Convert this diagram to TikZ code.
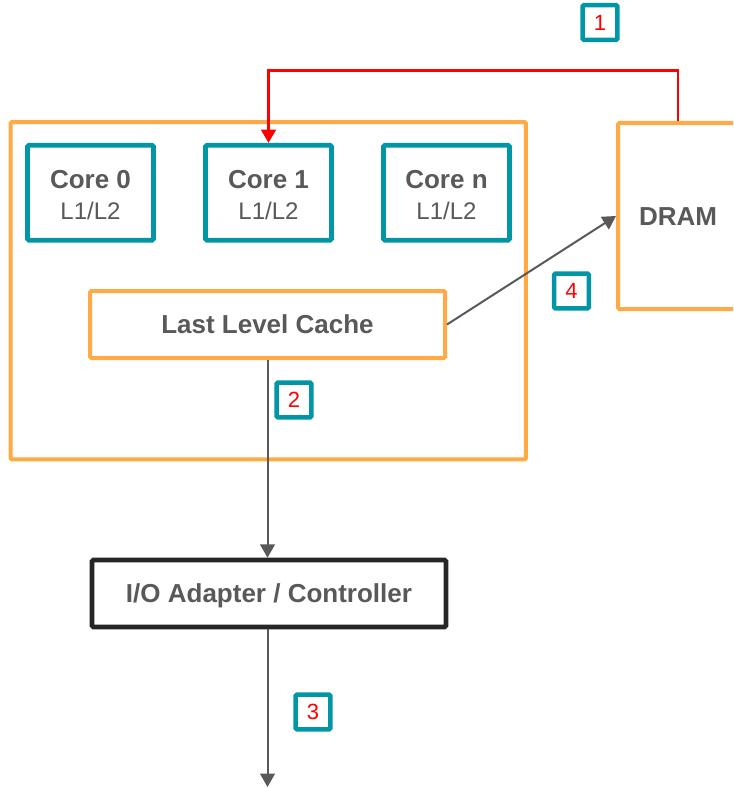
\documentclass[tikz,border=0pt]{standalone}
\usepackage{fontspec}
\setmainfont{Liberation Sans}
\usetikzlibrary{arrows.meta}
\definecolor{tealc}{RGB}{0,150,165}
\definecolor{orangec}{RGB}{255,170,68}
\definecolor{textgray}{RGB}{89,89,89}
\definecolor{linegray}{RGB}{89,89,89}
\definecolor{boxblack}{RGB}{38,38,38}
\definecolor{flowred}{RGB}{255,0,0}
\newcommand{\cachelabel}{\fontsize{18pt}{23.25pt}\selectfont\mdseries L1/L2}
\newcommand{\corehead}[1]{\rule{0pt}{17.3pt}#1}

\begin{document}
\begin{tikzpicture}[x=0.75pt,y=-0.75pt,
  box/.style={draw, rounded corners=1pt, inner sep=0pt, fill=white, align=center, text=textgray,
    font=\fontsize{19.5pt}{23.25pt}\selectfont\bfseries},
  orangebox/.style={box, draw=orangec, line width=3pt},
  core/.style={box, draw=tealc, line width=3.4pt, minimum width=94.5pt, minimum height=71.25pt},
  iobox/.style={box, draw=boxblack, line width=3.4pt},
  tag/.style={draw=tealc, line width=3.4pt, rounded corners=1pt, fill=white, inner sep=0pt,
    minimum width=26pt, minimum height=26pt, text=flowred, font=\fontsize{16.5pt}{20pt}\selectfont},
  flow/.style={draw=linegray, line width=1.5pt, -{Triangle[length=10pt,width=11pt]}},
  redflow/.style={draw=flowred, line width=1.8pt, -{Triangle[length=10pt,width=11pt]}}
]
\path[use as bounding box] (0,0) rectangle (733,788);
\clip (0,0) rectangle (733,788);

% processor package
\node[orangebox, minimum width=386.6pt, minimum height=253.1pt] (chip) at (268.25,290.75) {};

% cores with private caches
\node[core] (core0) at (90.5,192.75)  {\corehead{Core 0}\\\cachelabel};
\node[core] (core1) at (268.5,192.75) {\corehead{Core 1}\\\cachelabel};
\node[core] (coren) at (446.5,192.75) {\corehead{Core n}\\\cachelabel};

% shared cache
\node[orangebox, minimum width=266.25pt, minimum height=50.25pt, text height=14pt, text depth=0pt] (llc) at (267.5,324.5) {Last Level Cache};

% memory
\node[orangebox, minimum width=90pt, minimum height=139.5pt, text height=14pt, text depth=0pt] (dram) at (678,216) {DRAM};

% I/O controller
\node[iobox, minimum width=265.5pt, minimum height=50.25pt, text height=14pt, text depth=0pt] (io) at (269,593.5) {I/O Adapter / Controller};

% data paths
\coordinate (bottomrow) at (0,787);
\draw[redflow] (dram.north) -- ++(0,-50.5) -| (core1.north);
\draw[flow] (llc.east) -- (dram.west);
\draw[flow] (llc.south) -- (llc.south |- io.north);
\draw[flow] (llc.south |- io.south) -- (llc.south |- bottomrow);

% step numbers
\node[tag] (t1) at (600,22.5) {1};
\node[tag] (t2) at (294,400) {2};
\node[tag] (t3) at (313,712) {3};
\node[tag] (t4) at (571.5,291) {4};
\end{tikzpicture}
\end{document}
